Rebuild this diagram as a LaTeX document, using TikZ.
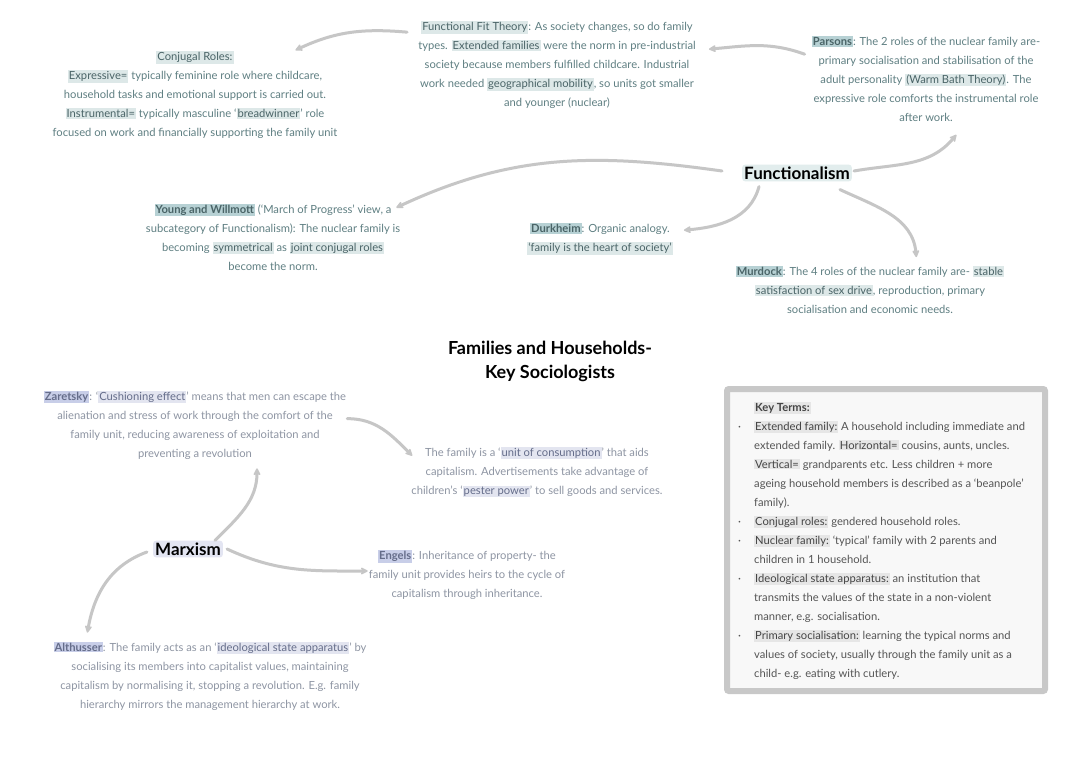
\documentclass[tikz,border=0pt]{standalone}
\usepackage{fontspec}
\setmainfont{Lato}
\usetikzlibrary{arrows.meta,calc}
\definecolor{ftext}{HTML}{5F7F82}
\definecolor{fkey}{HTML}{4A6467}
\definecolor{fhlbg}{HTML}{DDE8E8}
\definecolor{fnmbg}{HTML}{B7D1D4}
\definecolor{mtext}{HTML}{8E95A3}
\definecolor{mkey}{HTML}{656D8A}
\definecolor{mhlbg}{HTML}{E3E5F0}
\definecolor{mnmbg}{HTML}{C8CEE8}
\definecolor{ktext}{HTML}{555555}
\definecolor{kkey}{HTML}{444444}
\definecolor{khlbg}{HTML}{E6E6E6}
\definecolor{arr}{HTML}{C6C6C6}
\definecolor{boxgray}{HTML}{C8C8C8}
\definecolor{boxfill}{HTML}{F8F8F8}
\definecolor{funbg}{HTML}{E2EDED}
\definecolor{marbg}{HTML}{E3E5F2}
\newcommand\fhl[1]{{\setlength{\fboxsep}{1pt}\colorbox{fhlbg}{\textcolor{fkey}{#1}}}}
\newcommand\fnm[1]{{\setlength{\fboxsep}{1pt}\colorbox{fnmbg}{\textcolor{fkey}{\bfseries #1}}}}
\newcommand\mhl[1]{{\setlength{\fboxsep}{1pt}\colorbox{mhlbg}{\textcolor{mkey}{#1}}}}
\newcommand\mnm[1]{{\setlength{\fboxsep}{1pt}\colorbox{mnmbg}{\textcolor{mkey}{\bfseries #1}}}}
\newcommand\khl[1]{{\setlength{\fboxsep}{1pt}\colorbox{khlbg}{\textcolor{kkey}{#1}}}}
\newcommand\kbul{\makebox[20pt][l]{\hspace*{4pt}·}}
\newcommand\kind{\hspace*{20pt}}
\begin{document}
\begin{tikzpicture}[x=1pt,y=1pt,
  ftxt/.style={align=center,text=ftext,inner sep=1pt,font=\fontsize{11.2}{19}\selectfont},
  mtxt/.style={align=center,text=mtext,inner sep=1pt,font=\fontsize{11.2}{19}\selectfont},
  hub/.style={font=\fontsize{17}{19}\selectfont\bfseries,text=black,inner sep=2pt,rounded corners=3pt},
  conn/.style={draw=arr,line width=3pt,line cap=round,-{Stealth[round,length=9pt,width=9pt]}}]
\useasboundingbox (0,0) rectangle (1080,-763);
\fill[white] (0,0) rectangle (1080,-763);

% Functionalism branch
\node[ftxt] (cr) at (195,-95) {\fhl{Conjugal Roles:}\\ \fhl{Expressive=} typically feminine role where childcare,\\ household tasks and emotional support is carried out.\\ \fhl{Instrumental=} typically masculine `\fhl{breadwinner}' role\\ focused on work and financially supporting the family unit};
\node[ftxt] (ff) at (557,-65) {\fhl{Functional Fit Theory}: As society changes, so do family\\ types. \fhl{Extended families} were the norm in pre-industrial\\ society because members fulfilled childcare. Industrial\\ work needed \fhl{geographical mobility}, so units got smaller\\ and younger (nuclear)};
\node[ftxt] (pa) at (926,-79) {\fnm{Parsons}: The 2 roles of the nuclear family are-\\ primary socialisation and stabilisation of the\\ adult personality \fhl{(Warm Bath Theory)}. The\\ expressive role comforts the instrumental role\\ after work.};
\node[hub,fill=funbg] (fun) at (797,-173) {Functionalism};
\node[ftxt] (yw) at (273,-237) {\fnm{Young and Willmott} (`March of Progress' view, a\\ subcategory of Functionalism): The nuclear family is\\ becoming \fhl{symmetrical} as \fhl{joint conjugal roles}\\ become the norm.};
\node[ftxt] (du) at (600,-239) {\fnm{Durkheim}: Organic analogy.\\ \fhl{`family is the heart of society'}};
\node[ftxt] (mu) at (870,-290) {\fnm{Murdock}: The 4 roles of the nuclear family are- \fhl{stable}\\ \fhl{satisfaction of sex drive}, reproduction, primary\\ socialisation and economic needs.};

% Title
\node[align=center,inner sep=1pt,font=\fontsize{18}{24}\selectfont\bfseries] (title) at (550,-361) {Families and Households-\\ Key Sociologists};

% Marxism branch
\node[mtxt] (za) at (195,-425) {\mnm{Zaretsky}: `\mhl{Cushioning effect}' means that men can escape the\\ alienation and stress of work through the comfort of the\\ family unit, reducing awareness of exploitation and\\ preventing a revolution};
\node[mtxt] (uc) at (537,-472) {The family is a `\mhl{unit of consumption}' that aids\\ capitalism. Advertisements take advantage of\\ children's `\mhl{pester power}' to sell goods and services.};
\node[hub,fill=marbg] (mx) at (188,-549) {Marxism};
\node[mtxt] (en) at (467,-575) {\mnm{Engels}: Inheritance of property- the\\ family unit provides heirs to the cycle of\\ capitalism through inheritance.};
\node[mtxt] (al) at (210,-676) {\mnm{Althusser}: The family acts as an `\mhl{ideological state apparatus}' by\\ socialising its members into capitalist values, maintaining\\ capitalism by normalising it, stopping a revolution. E.g. family\\ hierarchy mirrors the management hierarchy at work.};

% Key terms box
\node[draw=boxgray,line width=6pt,fill=boxfill,rounded corners=2pt,minimum width=318pt,minimum height=302pt,inner sep=0pt] (kbox) at (886,-540) {};
\node[anchor=north west,align=left,inner sep=0pt,text=ktext,font=\fontsize{11.2}{19}\selectfont] (kt) at (734,-402) {%
\kind\khl{\bfseries Key Terms:}\\
\kbul\khl{Extended family:} A household including immediate and\\
\kind extended family. \khl{Horizontal=} cousins, aunts, uncles.\\
\kind\khl{Vertical=} grandparents etc. Less children + more\\
\kind ageing household members is described as a `beanpole'\\
\kind family).\\
\kbul\khl{Conjugal roles:} gendered household roles.\\
\kbul\khl{Nuclear family:} `typical' family with 2 parents and\\
\kind children in 1 household.\\
\kbul\khl{Ideological state apparatus:} an institution that\\
\kind transmits the values of the state in a non-violent\\
\kind manner, e.g. socialisation.\\
\kbul\khl{Primary socialisation:} learning the typical norms and\\
\kind values of society, usually through the family unit as a\\
\kind child- e.g. eating with cutlery.};

% Connectors
\draw[conn] ($(ff.north west)+(-10,-12)$) to[out=175,in=25] ($(cr.north east)+(-43,0)$);
\draw[conn] ($(pa.north west)+(-6,-19)$) to[out=160,in=5] ($(ff.north east)+(12,-29)$);
\draw[conn] ($(fun.east)+(2,2)$) to[out=10,in=230] ($(pa.south east)+(-85,-12)$);
\draw[conn] ($(fun.west)+(-20,2)$) to[out=172,in=25] ($(yw.north east)+(-5,-5)$);
\draw[conn] ($(fun.south west)+(17,-5)$) to[out=-105,in=5] ($(du.north east)+(10,-8)$);
\draw[conn] ($(fun.south east)+(-12,-8)$) to[out=-25,in=95] ($(mu.north east)+(-89,8)$);
\draw[conn] ($(mx.north east)+(-8,0)$) to[out=45,in=-90] ($(za.south)+(62,-8)$);
\draw[conn] ($(za.north east)+(0,-29)$) to[out=0,in=135] ($(uc.north west)+(2,-10)$);
\draw[conn] ($(mx.east)+(4,0)$) to[out=-25,in=180] ($(en.west)+(0,4)$);
\draw[conn] ($(mx.west)+(-6,-3)$) to[out=200,in=80] ($(al.north west)+(35,8)$);
\end{tikzpicture}
\end{document}
